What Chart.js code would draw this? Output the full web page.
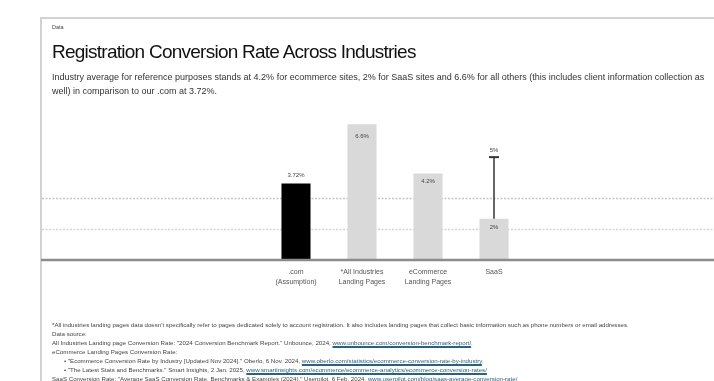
<!DOCTYPE html>
<html>
<head>
<meta charset="utf-8">
<script src="https://cdn.jsdelivr.net/npm/chart.js@4/dist/chart.umd.min.js"></script>
<style>
  html, body { margin:0; padding:0; width:714px; height:381px; overflow:hidden; background:#fff; }
  body { position:relative; font-family:"Liberation Sans", Arial, sans-serif; color:#222; }
  #frame { position:absolute; left:40px; top:17px; width:700px; height:400px; border-left:2px solid #d2d2d2; border-top:2px solid #d2d2d2; }
  #chartWrap { position:absolute; left:0; top:0; width:714px; height:381px; }
  .t { position:absolute; white-space:nowrap; }
  #kicker { left:52px; top:24px; font-size:5.5px; color:#444; }
  #title { left:52px; top:41px; font-size:19px; line-height:22px; color:#111; letter-spacing:-0.75px; }
  #sub { left:52px; top:70px; font-size:9px; line-height:14px; color:#333; }
  #notes { left:52px; top:320px; font-size:6.15px; line-height:9px; color:#444; }
  #notes a { color:#2b6280; text-decoration:underline; text-decoration-thickness:1.5px; text-underline-offset:1px; }
  .ind { padding-left:12px; }
</style>
</head>
<body>
<div id="frame"></div>
<div id="chartWrap"><canvas id="c" width="714" height="381"></canvas></div>
<div class="t" id="kicker">Data</div>
<div class="t" id="title">Registration Conversion Rate Across Industries</div>
<div class="t" id="sub">Industry average for reference purposes stands at 4.2% for ecommerce sites, 2% for SaaS sites and 6.6% for all others (this includes client information collection as<br>well) in comparison to our .com at 3.72%.</div>
<div class="t" id="notes">
*All industries landing pages data doesn't specifically refer to pages dedicated solely to account registration. It also includes landing pages that collect basic information such as phone numbers or email addresses.<br>
Data source:<br>
All Industries Landing page Conversion Rate: "2024 Conversion Benchmark Report." Unbounce, 2024, <a>www.unbounce.com/conversion-benchmark-report/</a>.<br>
eCommerce Landing Pages Conversion Rate:<br>
<span class="ind">• "Ecommerce Conversion Rate by Industry [Updated Nov 2024]." Oberlo, 6 Nov. 2024, <a>www.oberlo.com/statistics/ecommerce-conversion-rate-by-industry</a>.</span><br>
<span class="ind">• "The Latest Stats and Benchmarks." Smart Insights, 2 Jan. 2025, <a>www.smartinsights.com/ecommerce/ecommerce-analytics/ecommerce-conversion-rates/</a></span><br>
SaaS Conversion Rate: "Average SaaS Conversion Rate, Benchmarks &amp; Examples (2024)." Userpilot, 6 Feb. 2024, <a>www.userpilot.com/blog/saas-average-conversion-rate/</a>
</div>
<script>
// ---- data ----
const categories = [[".com", "(Assumption)"], ["*All Industries", "Landing Pages"], ["eCommerce", "Landing Pages"], ["SaaS"]];
const rates = [3.72, 6.6, 4.2, 2];
const rateLabels = ["3.72%", "6.6%", "4.2%", "2%"];
const saasRange = [2, 5];
const saasRangeLabel = "5%";
const guideValues = [1.5, 3];
const yMax = 7;

const FONT = '"Liberation Sans", Arial, sans-serif';

const decor = {
  id: 'decor',
  beforeDatasetsDraw(chart) {
    const { ctx } = chart;
    const y = chart.scales.y;
    ctx.save();
    guideValues.forEach((v, i) => {
      const py = Math.round(y.getPixelForValue(v)) + 0.5;
      ctx.strokeStyle = i === 0 ? '#d4d4d4' : '#c6c6c6';
      ctx.lineWidth = 1.5;
      ctx.setLineDash([2, 1.5]);
      ctx.beginPath();
      ctx.moveTo(42, py);
      ctx.lineTo(chart.width, py);
      ctx.stroke();
    });
    ctx.restore();
  },
  afterDatasetsDraw(chart) {
    const { ctx } = chart;
    const y = chart.scales.y;
    const meta = chart.getDatasetMeta(0);
    ctx.save();
    // baseline
    const by = y.getPixelForValue(0);
    ctx.strokeStyle = '#8c8c8c';
    ctx.lineWidth = 2.5;
    ctx.beginPath();
    ctx.moveTo(41, by);
    ctx.lineTo(chart.width, by);
    ctx.stroke();

    // error range for SaaS
    const bar = meta.data[3];
    const yLo = y.getPixelForValue(saasRange[0]);
    const yHi = y.getPixelForValue(saasRange[1]);
    ctx.strokeStyle = '#333';
    ctx.lineWidth = 1.5;
    ctx.beginPath();
    ctx.moveTo(bar.x, yLo);
    ctx.lineTo(bar.x, yHi);
    ctx.stroke();
    ctx.lineWidth = 2;
    ctx.beginPath();
    ctx.moveTo(bar.x - 5, yHi);
    ctx.lineTo(bar.x + 5, yHi);
    ctx.stroke();

    // value labels
    ctx.fillStyle = '#444';
    ctx.font = '6px ' + FONT;
    ctx.textAlign = 'center';
    ctx.textBaseline = 'middle';
    meta.data.forEach((el, i) => {
      const ly = i === 0 ? el.y - 8 : el.y + (i === 1 ? 12 : 8);
      ctx.fillText(rateLabels[i], el.x, ly);
    });
    ctx.fillText(saasRangeLabel, bar.x, yHi - 7);
    ctx.restore();
  }
};

new Chart(document.getElementById('c'), {
  type: 'bar',
  data: {
    labels: categories,
    datasets: [{
      data: rates,
      backgroundColor: rates.map((v, i) => i === 0 ? '#000000' : '#d9d9d9'),
      borderWidth: 0,
      barPercentage: 0.44,
      categoryPercentage: 1
    }]
  },
  options: {
    responsive: false,
    animation: false,
    devicePixelRatio: 1,
    layout: { padding: { left: 263, right: 187, top: 116, bottom: 81 } },
    plugins: { legend: { display: false }, tooltip: { enabled: false } },
    scales: {
      x: {
        grid: { display: false, drawTicks: false },
        border: { display: false },
        ticks: { color: '#555', font: { family: FONT, size: 7, lineHeight: 1.4 }, padding: 7, autoSkip: false, maxRotation: 0 },
        afterFit(s) { s.height = 40; }
      },
      y: { display: false, min: 0, max: yMax }
    }
  },
  plugins: [decor]
});
</script>
</body>
</html>
